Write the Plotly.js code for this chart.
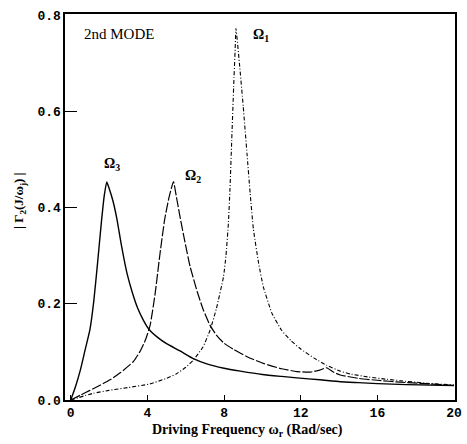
<!DOCTYPE html>
<html>
<head>
<meta charset="utf-8">
<script src="https://cdn.plot.ly/plotly-3.0.1.min.js"></script>
<style>html,body{margin:0;padding:0;background:#fff;}#chart{width:467px;height:444px;}</style>
</head>
<body>
<div id="chart"></div>
<script>
// Omega_3 curve (solid)
const omega3X = [0, 0.25, 0.5, 0.75, 1.0, 1.2, 1.4, 1.6, 1.75, 1.88, 2.0, 2.2, 2.4, 2.65, 2.93, 3.2, 3.5, 3.8, 4.1, 4.6, 5.0, 5.7, 6.4, 7.1, 8.0, 8.85, 10.0, 11.0, 11.8, 13.0, 14.06, 15.0, 16.0, 17.5, 20.0];
const omega3Y = [0, 0.028, 0.062, 0.104, 0.146, 0.205, 0.285, 0.37, 0.425, 0.453, 0.44, 0.414, 0.378, 0.32, 0.264, 0.225, 0.19, 0.165, 0.146, 0.128, 0.117, 0.102, 0.086, 0.075, 0.066, 0.06, 0.053, 0.049, 0.046, 0.042, 0.038, 0.036, 0.034, 0.032, 0.03];
// Omega_2 curve (long dashes)
const omega2X = [0, 0.5, 1.0, 1.5, 2.05, 2.6, 3.27, 3.6, 3.9, 4.14, 4.4, 4.66, 4.9, 5.1, 5.25, 5.36, 5.5, 5.7, 5.95, 6.23, 6.6, 6.92, 7.27, 7.6, 8.0, 8.5, 9.2, 10.05, 11.0, 11.8, 12.5, 13.0, 13.35, 13.7, 14.06, 15.0, 16.0, 17.2, 18.5, 20.0];
const omega2Y = [0, 0.01, 0.02, 0.03, 0.042, 0.057, 0.08, 0.1, 0.125, 0.155, 0.22, 0.305, 0.375, 0.416, 0.44, 0.454, 0.425, 0.381, 0.33, 0.277, 0.225, 0.187, 0.155, 0.135, 0.118, 0.105, 0.09, 0.076, 0.065, 0.059, 0.058, 0.062, 0.067, 0.058, 0.052, 0.045, 0.041, 0.037, 0.034, 0.03];
// Omega_1 curve (dash-dot)
const omega1X = [0, 1.18, 2.0, 3.0, 4.1, 5.0, 5.5, 6.0, 6.4, 6.9, 7.27, 7.6, 7.97, 8.1, 8.23, 8.31, 8.4, 8.5, 8.58, 8.62, 8.8, 9.0, 9.2, 9.36, 9.53, 9.8, 10.05, 10.5, 11.0, 11.5, 12.0, 12.7, 13.36, 14.06, 14.6, 15.5, 16.5, 17.2, 18.5, 20.0];
const omega1Y = [0, 0.014, 0.02, 0.026, 0.033, 0.045, 0.054, 0.068, 0.083, 0.11, 0.145, 0.19, 0.256, 0.3, 0.37, 0.44, 0.54, 0.65, 0.73, 0.772, 0.7, 0.61, 0.51, 0.43, 0.355, 0.285, 0.235, 0.18, 0.145, 0.123, 0.106, 0.087, 0.072, 0.06, 0.054, 0.048, 0.043, 0.04, 0.035, 0.031];

const xTickVals = [0, 4, 8, 12, 16, 20];
const xTickText = ['0', '4', '8', '12', '16', '20'];
const yTickVals = [0, 0.2, 0.4, 0.6, 0.8];
const yTickText = ['0.0', '0.2', '0.4', '0.6', '0.8'];

const curveLabels = ['Ω<sub>1</sub>', 'Ω<sub>2</sub>', 'Ω<sub>3</sub>'];
const labelX = [9.93, 6.38, 2.16];
const labelY = [0.757, 0.464, 0.489];

const traces = [
  {x: omega3X, y: omega3Y, mode: 'lines', line: {color: '#000', width: 1.4, shape: 'spline', smoothing: 0.5}, showlegend: false, hoverinfo: 'skip'},
  {x: omega2X, y: omega2Y, mode: 'lines', line: {color: '#000', width: 1.2, dash: '10px,2px', shape: 'spline', smoothing: 0.5}, showlegend: false, hoverinfo: 'skip'},
  {x: omega1X, y: omega1Y, mode: 'lines', line: {color: '#000', width: 1.1, dash: '4px,2px,1px,2px', shape: 'spline', smoothing: 0.4}, showlegend: false, hoverinfo: 'skip'}
];

const tickFont = {family: 'Liberation Mono, monospace', size: 13, color: '#000', weight: 'bold'};
const serif = 'Liberation Serif, DejaVu Serif, serif';

const annotations = curveLabels.map((t, i) => ({
  x: labelX[i], y: labelY[i], xref: 'x', yref: 'y', text: t, showarrow: false,
  font: {family: serif, size: 14, color: '#000', weight: 'bold'}, xanchor: 'center', yanchor: 'middle'
}));
annotations.push({x: 0.59, y: 0.761, xref: 'x', yref: 'y', text: '2nd MODE', showarrow: false,
  font: {family: serif, size: 15, color: '#000'}, xanchor: 'left', yanchor: 'middle'});
annotations.push({x: 0.467, y: -0.078, xref: 'paper', yref: 'paper', text: 'Driving Frequency ω<sub>r</sub> (Rad/sec)', showarrow: false,
  font: {family: serif, size: 14, color: '#000', weight: 'bold'}, xanchor: 'center', yanchor: 'middle'});
annotations.push({x: -0.115, y: 0.516, xref: 'paper', yref: 'paper', text: '| Γ<sub>2</sub>(J/ω<sub>j</sub>) |', showarrow: false, textangle: -90,
  font: {family: serif, size: 13, color: '#000', weight: 'bold'}, xanchor: 'center', yanchor: 'middle'});

const layout = {
  width: 467, height: 444,
  margin: {l: 65, r: 12, t: 14, b: 44},
  paper_bgcolor: '#fff', plot_bgcolor: '#fff',
  xaxis: {range: [-0.3, 20.05], tickvals: xTickVals, ticktext: xTickText, ticks: 'inside', ticklen: 5, tickcolor: '#000',
    showline: true, mirror: true, linecolor: '#000', linewidth: 1.6, showgrid: false, zeroline: false, tickfont: tickFont},
  yaxis: {range: [0, 0.802], tickvals: yTickVals, ticktext: yTickText, ticks: 'inside', ticklen: 12, tickwidth: 1.4, tickcolor: '#000',
    showline: true, mirror: true, linecolor: '#000', linewidth: 1.6, showgrid: false, zeroline: false, tickfont: tickFont},
  annotations: annotations
};

Plotly.newPlot('chart', traces, layout, {staticPlot: true, displayModeBar: false});
</script>
</body>
</html>
